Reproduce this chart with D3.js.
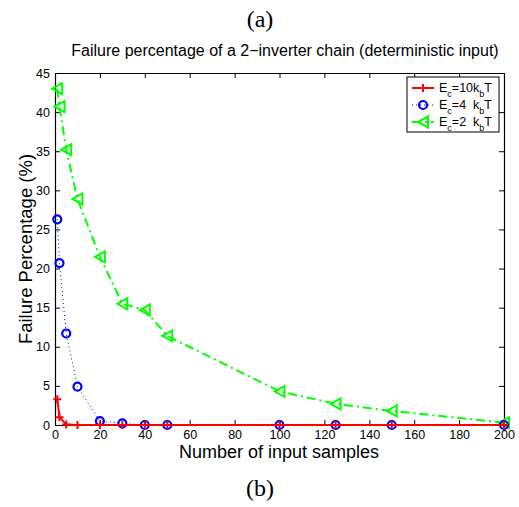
<!DOCTYPE html>
<html>
<head>
<meta charset="utf-8">
<script src="https://cdn.jsdelivr.net/npm/d3@7"></script>
<style>
  body { margin: 0; background: #fff; }
  text { font-family: "Liberation Sans", Arial, sans-serif; }
  .serif { font-family: "Liberation Serif", "DejaVu Serif", serif; }
</style>
</head>
<body>
<div id="chart"></div>
<script>
const samples = [1, 2, 5, 10, 20, 30, 40, 50, 100, 125, 150, 200];
const ec10 = [3.3, 1.0, 0.05, 0, 0, 0, 0, 0, 0, 0, 0, 0];
const ec4 = [26.3, 20.7, 11.7, 4.9, 0.5, 0.2, 0, 0, 0, 0, 0, 0];
const ec2 = [43.0, 40.7, 35.2, 28.9, 21.5, 15.5, 14.7, 11.4, 4.3, 2.7, 1.8, 0.3];
const xTicks = [0, 20, 40, 60, 80, 100, 120, 140, 160, 180, 200];
const yTicks = [0, 5, 10, 15, 20, 25, 30, 35, 40, 45];

let width = 519,
    height = 507,
    margin = {left: 55, top: 73, right: 15, bottom: 82},
    clipWidth = width - margin.left - margin.right,
    clipHeight = height - margin.top - margin.bottom;

let svg = d3.select('#chart').append('svg')
    .attr('width', width)
    .attr('height', height);

let g = svg.append('g')
    .attr('transform', `translate(${margin.left}, ${margin.top})`);

let xScale = d3.scaleLinear().domain([0, 200]).range([0, clipWidth]);
let yScale = d3.scaleLinear().domain([0, 45]).range([clipHeight, 0]);

// axes with inward ticks, matlab style
let xAxis = g.append('g')
    .attr('transform', `translate(0, ${clipHeight})`)
    .call(d3.axisBottom(xScale).tickValues(xTicks).tickSizeInner(-5).tickSizeOuter(0).tickPadding(5));
let xTop = g.append('g')
    .call(d3.axisTop(xScale).tickValues(xTicks).tickSizeInner(-5).tickSizeOuter(0).tickFormat(''));
let yAxis = g.append('g')
    .call(d3.axisLeft(yScale).tickValues(yTicks).tickSizeInner(-5).tickSizeOuter(0).tickPadding(5));
let yRight = g.append('g')
    .attr('transform', `translate(${clipWidth}, 0)`)
    .call(d3.axisRight(yScale).tickValues(yTicks).tickSizeInner(-5).tickSizeOuter(0).tickFormat(''));

[xAxis, xTop, yAxis, yRight].forEach(a => {
    a.selectAll('.domain').attr('stroke', '#000').attr('stroke-width', 1.2);
    a.selectAll('.tick line').attr('stroke', '#000');
    a.selectAll('.tick text').attr('font-size', 12.5).attr('fill', '#000')
        .attr('font-family', '"Liberation Sans", Arial, sans-serif');
});

let line = d3.line()
    .x(d => xScale(d[0]))
    .y(d => yScale(d[1]));

let series = [
    {key: 'ec2', values: ec2, color: '#00ff00', dash: '9,4,2,4', width: 2, marker: 'tri'},
    {key: 'ec4', values: ec4, color: '#0000ff', dash: '1,3', width: 1, marker: 'circle'},
    {key: 'ec10', values: ec10, color: '#ff0000', dash: null, width: 2, marker: 'plus'}
];

function drawMarker(sel, type, color) {
    if (type === 'circle') {
        sel.append('circle').attr('r', 4).attr('fill', 'none')
            .attr('stroke', color).attr('stroke-width', 2.2);
    } else if (type === 'tri') {
        sel.append('path').attr('d', 'M-5,0 L5,-5.5 L5,5.5 Z')
            .attr('fill', 'none').attr('stroke', color).attr('stroke-width', 2);
    } else {
        sel.append('path').attr('d', 'M-4,0 H4 M0,-4 V4')
            .attr('stroke', color).attr('stroke-width', 2);
    }
}

series.forEach(s => {
    let pts = samples.map((x, i) => [x, s.values[i]]);
    g.append('path')
        .datum(pts)
        .attr('fill', 'none')
        .attr('stroke', s.color)
        .attr('stroke-width', s.width)
        .attr('stroke-dasharray', s.dash)
        .attr('d', line);
    g.selectAll(`.m-${s.key}`)
        .data(pts)
        .join('g')
        .attr('class', `m-${s.key}`)
        .attr('transform', d => `translate(${xScale(d[0])}, ${yScale(d[1])})`)
        .each(function() { drawMarker(d3.select(this), s.marker, s.color); });
});

// legend
let legend = svg.append('g').attr('transform', 'translate(407, 77)');
legend.append('rect').attr('width', 92).attr('height', 55)
    .attr('fill', '#fff').attr('stroke', '#000').attr('stroke-width', 1);

let legendItems = [
    {rest: '=10k', color: '#ff0000', dash: null, w: 2, marker: 'plus'},
    {rest: '=4\u00a0\u00a0k', color: '#0000ff', dash: '1,3', w: 1, marker: 'circle'},
    {rest: '=2\u00a0\u00a0k', color: '#00ff00', dash: '9,4,2,4', w: 2, marker: 'tri'}
];
legendItems.forEach((d, i) => {
    let row = legend.append('g').attr('transform', `translate(0, ${11 + i * 17})`);
    row.append('line').attr('x1', 5).attr('x2', 27)
        .attr('stroke', d.color).attr('stroke-width', d.w).attr('stroke-dasharray', d.dash);
    drawMarker(row.append('g').attr('transform', 'translate(16, 0)'), d.marker, d.color);
    let t = row.append('text').attr('x', 32).attr('y', 4).attr('font-size', 12.5).attr('fill', '#000');
    t.append('tspan').text('E');
    t.append('tspan').attr('font-size', 9).attr('dy', 5).text('c');
    t.append('tspan').attr('dy', -5).text(d.rest);
    t.append('tspan').attr('font-size', 9).attr('dy', 5).text('b');
    t.append('tspan').attr('dy', -5).text('T');
});

// titles
svg.append('text').attr('class', 'serif').attr('x', 260).attr('y', 27)
    .attr('text-anchor', 'middle').attr('font-size', 24).text('(a)');
svg.append('text').attr('x', 285).attr('y', 56)
    .attr('text-anchor', 'middle').attr('font-size', 16).text('Failure percentage of a 2\u2212inverter chain (deterministic input)');
svg.append('text').attr('x', 279).attr('y', 458)
    .attr('text-anchor', 'middle').attr('font-size', 18).text('Number of input samples');
svg.append('text').attr('transform', 'translate(32, 249) rotate(-90)')
    .attr('text-anchor', 'middle').attr('font-size', 18.5).text('Failure Percentage (%)');
svg.append('text').attr('class', 'serif').attr('x', 260).attr('y', 496)
    .attr('text-anchor', 'middle').attr('font-size', 24).text('(b)');
</script>
</body>
</html>
